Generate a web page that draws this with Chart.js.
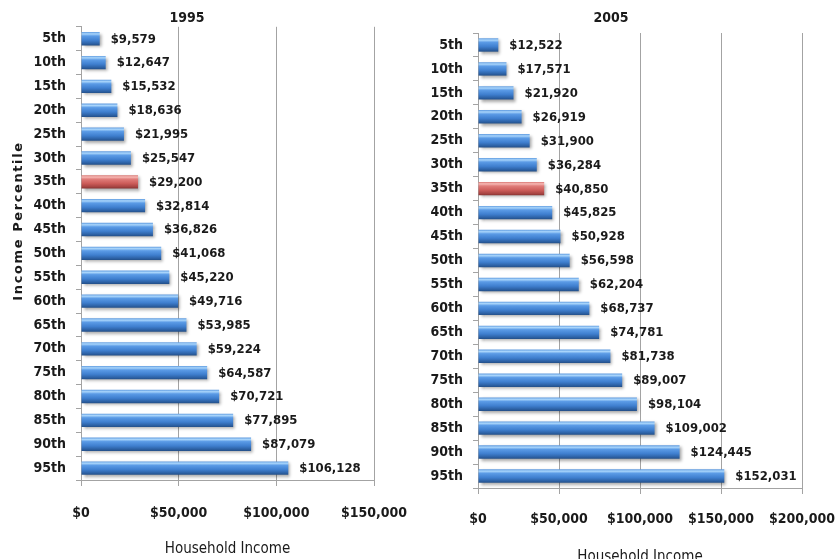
<!DOCTYPE html>
<html>
<head>
<meta charset="utf-8">
<script src="https://cdn.jsdelivr.net/npm/chart.js@4.4.1/dist/chart.umd.min.js"></script>
<style>
  html, body { margin: 0; padding: 0; background: #ffffff; }
  #wrap { position: relative; width: 839px; height: 559px; overflow: hidden; }
  #c1 { position: absolute; left: 0; top: 0; }
  #c2 { position: absolute; left: 420px; top: 0; }
</style>
</head>
<body>
<div id="wrap">
  <canvas id="c1" width="420" height="559"></canvas>
  <canvas id="c2" width="419" height="559"></canvas>
</div>
<script>
// ---- Data ----
const categories = ['5th','10th','15th','20th','25th','30th','35th','40th','45th','50th','55th','60th','65th','70th','75th','80th','85th','90th','95th'];
const income1995 = [9579,12647,15532,18636,21995,25547,29200,32814,36826,41068,45220,49716,53985,59224,64587,70721,77895,87079,106128];
const income2005 = [12522,17571,21920,26919,31900,36284,40850,45825,50928,56598,62204,68737,74781,81738,89007,98104,109002,124445,152031];
const highlightCategory = '35th';
const chartTitles = ['1995', '2005'];
const xAxisTitle = 'Household Income';
const yAxisTitle = 'Income Percentile';
const xMax1995 = 150000;
const xMax2005 = 200000;
const xStep = 50000;

const FONT = "'DejaVu Sans Condensed', 'Liberation Sans Narrow', 'DejaVu Sans', sans-serif";
const TEXT = '#1a1a1a';
const GRID = '#a3a3a3';
const BAR_FRACTION = 0.56;

function money(v) { return '$' + Number(v).toLocaleString('en-US'); }

const blueStops = [[0,'#5f9be0'],[0.14,'#a9d5fb'],[0.3,'#5b9be6'],[0.62,'#3f7fcf'],[0.86,'#2d62a6'],[1,'#234f88']];
const redStops  = [[0,'#d77470'],[0.14,'#f7b9b5'],[0.3,'#e07d7a'],[0.62,'#cc5c59'],[0.86,'#a84543'],[1,'#873332']];

function barFill(context) {
  const chart = context.chart;
  const stops = categories[context.dataIndex] === highlightCategory ? redStops : blueStops;
  const yScale = chart.scales && chart.scales.y;
  if (!chart.chartArea || !yScale || yScale.getPixelForValue(0) === undefined) return stops[2][1];
  const yc = yScale.getPixelForValue(context.dataIndex);
  const step = Math.abs(yScale.getPixelForValue(1) - yScale.getPixelForValue(0));
  const h = step * BAR_FRACTION / 2;
  if (!isFinite(yc) || !isFinite(h) || h <= 0) return stops[2][1];
  const g = chart.ctx.createLinearGradient(0, yc - h, 0, yc + h);
  stops.forEach(s => g.addColorStop(s[0], s[1]));
  return g;
}

const barDecor = {
  id: 'barDecor',
  beforeDatasetsDraw(chart) {
    const ctx = chart.ctx;
    ctx.save();
    ctx.shadowColor = 'rgba(0,0,0,0.35)';
    ctx.shadowBlur = 3;
    ctx.shadowOffsetX = 2;
    ctx.shadowOffsetY = 2;
  },
  afterDatasetsDraw(chart) {
    const ctx = chart.ctx;
    ctx.restore();
    const meta = chart.getDatasetMeta(0);
    const data = chart.data.datasets[0].data;
    ctx.save();
    ctx.font = 'bold 13px ' + FONT;
    ctx.fillStyle = TEXT;
    ctx.textAlign = 'left';
    ctx.textBaseline = 'middle';
    meta.data.forEach((el, i) => {
      ctx.fillText(money(data[i]), el.x + 11, el.y + 0.5);
    });
    ctx.restore();
  }
};

const yTitlePlugin = {
  id: 'yTitle',
  afterDraw(chart, args, opts) {
    if (!opts || !opts.text) return;
    const ctx = chart.ctx;
    ctx.save();
    ctx.translate(opts.x, opts.y);
    ctx.rotate(-Math.PI / 2);
    ctx.font = 'bold 13px ' + "'DejaVu Sans', sans-serif";
    try { ctx.letterSpacing = '1.6px'; } catch (e) {}
    ctx.fillStyle = TEXT;
    ctx.textAlign = 'center';
    ctx.textBaseline = 'middle';
    ctx.fillText(opts.text, 0, 0);
    ctx.restore();
  }
};

function makeChart(canvasId, title, values, xMax, cfg) {
  return new Chart(document.getElementById(canvasId), {
    type: 'bar',
    data: {
      labels: categories,
      datasets: [{
        data: values,
        backgroundColor: barFill,
        borderWidth: 0,
        categoryPercentage: 1,
        barPercentage: BAR_FRACTION
      }]
    },
    plugins: [barDecor, yTitlePlugin],
    options: {
      indexAxis: 'y',
      responsive: false,
      animation: false,
      devicePixelRatio: 1,
      layout: { padding: { left: 0, right: cfg.rightPad, top: 0, bottom: 0 } },
      plugins: {
        legend: { display: false },
        tooltip: { enabled: false },
        title: {
          display: true,
          text: title,
          color: TEXT,
          font: { family: FONT, size: 14, weight: 'bold' },
          padding: { top: cfg.titleTop, bottom: cfg.titleBottom }
        },
        yTitle: cfg.yTitle
      },
      scales: {
        x: {
          min: 0,
          max: xMax,
          ticks: {
            stepSize: xStep,
            color: TEXT,
            padding: cfg.xTickPad,
            font: { family: FONT, size: 14, weight: 'bold' },
            callback: v => money(v),
            maxRotation: 0
          },
          grid: { color: GRID, tickLength: 6, lineWidth: 1 },
          border: { color: GRID },
          title: {
            display: true,
            text: xAxisTitle,
            color: TEXT,
            font: { family: FONT, size: 15, weight: 'normal' },
            padding: { top: 0, bottom: cfg.xTitleBottom }
          },
          afterFit(scale) {
            scale.height = cfg.xHeight;
            scale.paddingLeft = 0;
            scale.paddingRight = 0;
          }
        },
        y: {
          ticks: {
            color: TEXT,
            padding: 10,
            font: { family: FONT, size: 14, weight: 'bold' }
          },
          grid: { drawOnChartArea: false, tickLength: 5, color: GRID, offset: true },
          border: { color: GRID },
          afterFit(scale) { scale.width = cfg.yWidth; }
        }
      }
    }
  });
}

makeChart('c1', chartTitles[0], income1995, xMax1995, {
  rightPad: 46, titleTop: 10, titleBottom: 0,
  xTickPad: 18.8, xTitleBottom: 1.0, xHeight: 79,
  yWidth: 81,
  yTitle: { text: yAxisTitle, x: 19, y: 221 }
});

makeChart('c2', chartTitles[1], income2005, xMax2005, {
  rightPad: 37, titleTop: 9.6, titleBottom: 6.6,
  xTickPad: 16.8, xTitleBottom: -7.4, xHeight: 71,
  yWidth: 58,
  yTitle: { text: '' }
});
</script>
</body>
</html>
